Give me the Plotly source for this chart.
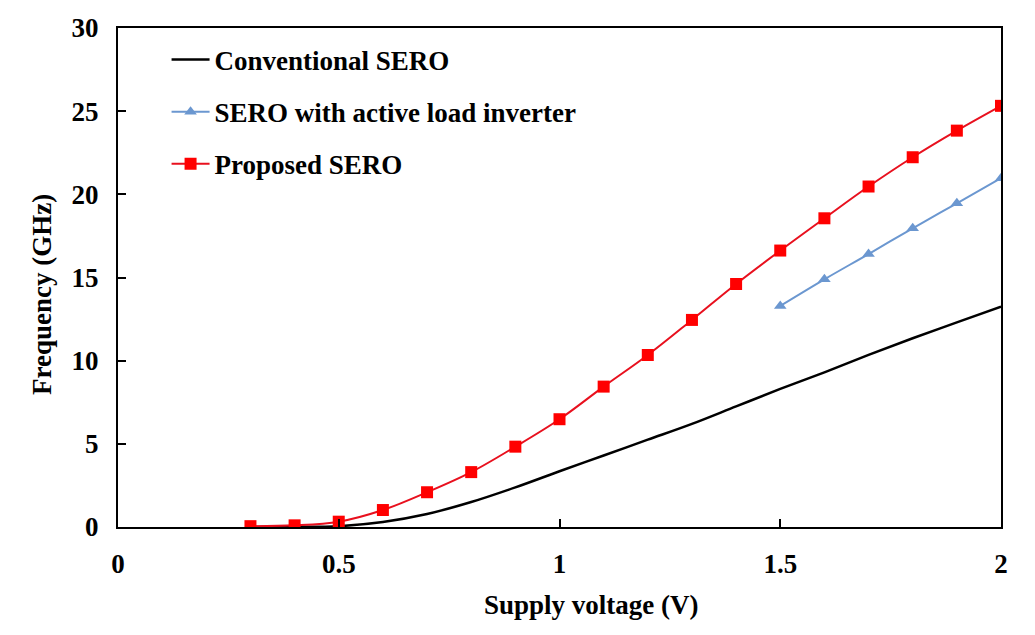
import plotly.graph_objects as go

# Data
voltage = [0.3, 0.4, 0.5, 0.6, 0.7, 0.8, 0.9, 1.0, 1.1, 1.2, 1.3, 1.4, 1.5, 1.6, 1.7, 1.8, 1.9, 2.0]
conventional = [0.0, 0.01, 0.05, 0.3, 0.78, 1.5, 2.38, 3.35, 4.3, 5.25, 6.2, 7.25, 8.3, 9.3, 10.35, 11.35, 12.3, 13.25]
proposed = [0.05, 0.1, 0.32, 1.02, 2.09, 3.3, 4.83, 6.48, 8.44, 10.34, 12.45, 14.61, 16.62, 18.56, 20.47, 22.23, 23.83, 25.32]
voltage_active = [1.5, 1.6, 1.7, 1.8, 1.9, 2.0]
active_load = [13.29, 14.89, 16.41, 17.96, 19.46, 20.97]

x_ticks = [0, 0.5, 1, 1.5, 2]
x_tick_labels = ["0", "0.5", "1", "1.5", "2"]
y_ticks = [0, 5, 10, 15, 20, 25, 30]

FONT = "Liberation Serif"
FS = 27

fig = go.Figure()
fig.add_trace(go.Scatter(
    x=voltage, y=conventional, mode="lines", name="<b>Conventional SERO</b>",
    line=dict(color="black", width=2.5, shape="spline"), legendgroup="a"))
fig.add_trace(go.Scatter(
    x=voltage_active, y=active_load, mode="lines+markers", name="<b>SERO with active load inverter</b>",
    line=dict(color="#6b97d0", width=2, shape="spline"),
    marker=dict(symbol="triangle-up", size=11, color="#6b97d0"), legendgroup="b"))
fig.add_trace(go.Scatter(
    x=voltage, y=proposed, mode="lines+markers", name="<b>Proposed SERO</b>",
    line=dict(color="#e8101e", width=2, shape="spline"),
    marker=dict(symbol="square", size=12, color="#ff0000"), legendgroup="c"))

axis_common = dict(
    showline=True, linecolor="black", linewidth=2, mirror=True,
    ticks="inside", ticklen=8, tickwidth=2, tickcolor="black",
    showgrid=False, zeroline=False,
    tickfont=dict(family=FONT, size=FS, color="black", weight="bold"),
)

fig.update_xaxes(range=[0, 2], tickvals=x_ticks, ticktext=x_tick_labels,
                 ticklabelstandoff=12, **axis_common)
fig.update_yaxes(range=[0, 30], tickvals=y_ticks, ticklabelstandoff=12, **axis_common)

pw = 1035 - 118 - 34
ph = 635 - 28 - 108

fig.update_layout(
    width=1035, height=635,
    margin=dict(l=118, r=34, t=28, b=108),
    paper_bgcolor="white", plot_bgcolor="white",
    font=dict(family=FONT, color="black"),
    showlegend=True,
    legend=dict(
        x=0.055, y=0.985, xanchor="left", yanchor="top",
        bgcolor="rgba(0,0,0,0)",
        font=dict(family=FONT, size=FS, color="black"),
        traceorder="grouped", tracegroupgap=14, itemwidth=38,
    ),
    annotations=[
        dict(text="<b>Supply voltage (V)</b>", xref="paper", yref="paper",
             x=(591 - 118) / pw, y=(527 - 605) / ph, xanchor="center", yanchor="middle",
             showarrow=False, font=dict(family=FONT, size=FS, color="black")),
        dict(text="<b>Frequency (GHz)</b>", xref="paper", yref="paper",
             x=(42 - 118) / pw, y=(527 - 295) / ph, xanchor="center", yanchor="middle",
             showarrow=False, textangle=-90, font=dict(family=FONT, size=FS, color="black")),
    ],
)

fig.write_html("out.html")
